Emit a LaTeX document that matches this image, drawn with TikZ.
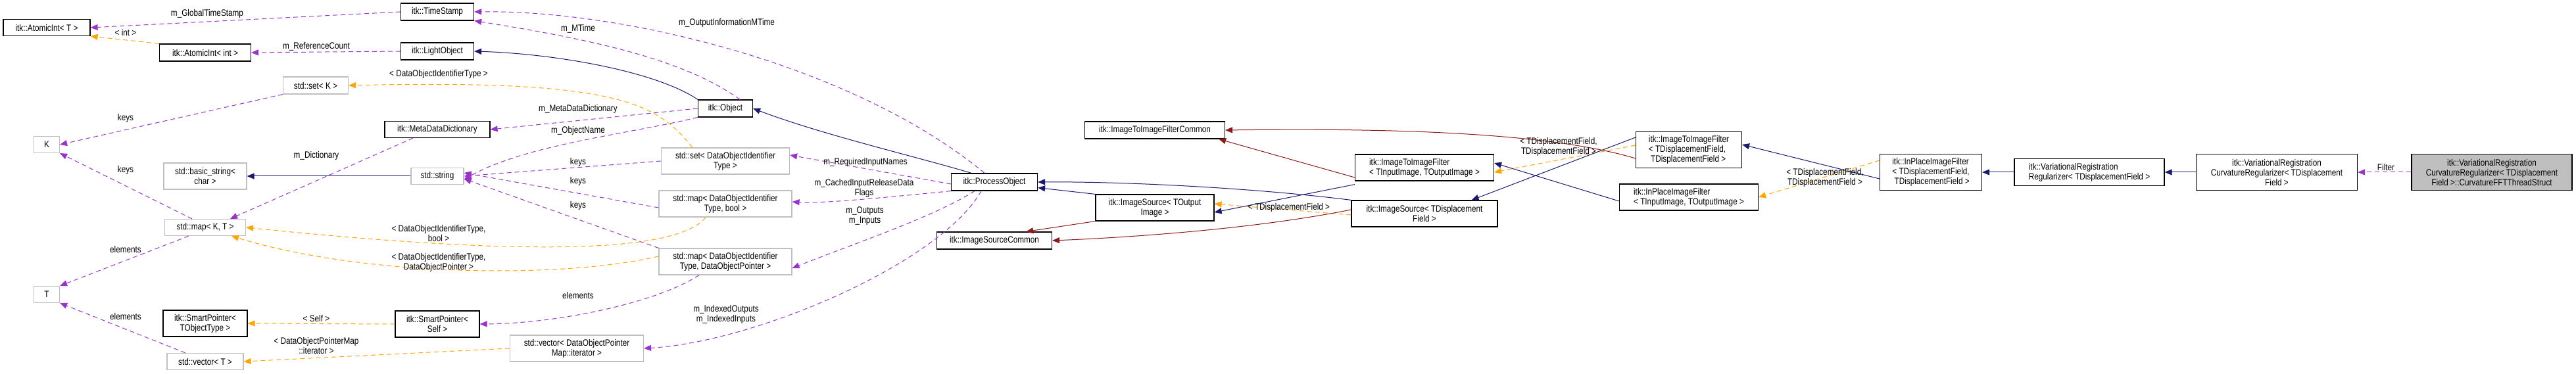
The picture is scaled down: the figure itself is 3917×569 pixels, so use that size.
\documentclass[tikz,border=0pt]{standalone}
\usepackage{fontspec}
\setmainfont{Liberation Sans}[FakeStretch=0.84]
\usetikzlibrary{arrows.meta}
\definecolor{cpur}{HTML}{9A32CD}
\definecolor{corg}{HTML}{FFA500}
\definecolor{cnav}{HTML}{191970}
\definecolor{cred}{HTML}{8B1A1A}
\definecolor{cgb}{HTML}{BFBFBF}
\begin{document}
\begin{tikzpicture}[x=1pt,y=-1pt,
  font=\fontsize{14}{15}\selectfont,
  box/.style={draw=black,line width=1.2pt,inner sep=1pt,align=center},
  gbox/.style={draw=cgb,line width=1.2pt,inner sep=1pt,align=center},
  lbox/.style={box,align=left},
  tip/.style={-{Triangle[length=11pt,width=9pt]}},
  use/.style={tip,draw=cpur,dashed,dash pattern=on 7pt off 5pt,line width=1pt},
  tpl/.style={tip,draw=corg,dashed,dash pattern=on 7pt off 5pt,line width=1pt},
  inh/.style={tip,draw=cnav,line width=1pt},
  prv/.style={tip,draw=cred,line width=1pt},
  lab/.style={align=center,inner sep=0pt}]
\useasboundingbox (0,0) rectangle (3917,569);
\def\B#1#2#3#4#5#6{\node[#1,minimum width=#4,minimum height=#5] (#6) at (#2,#3)}
% nodes
\B{box}{71}{42}{132}{25}{ait}{itk::AtomicInt< T >};
\B{box}{312}{80}{139}{26}{aint}{itk::AtomicInt< int >};
\B{gbox}{480}{130}{99}{26}{setk}{std::set< K >};
\B{gbox}{71}{220}{39}{25}{K}{K};
\B{gbox}{312}{268}{126}{40}{bstr}{std::basic\_string<\\ char >};
\B{gbox}{312}{346}{123}{25}{mapkt}{std::map< K, T >};
\B{gbox}{71}{448}{39}{25}{T}{T};
\B{box}{312}{492}{128}{40}{spto}{itk::SmartPointer<\\ TObjectType >};
\B{gbox}{312}{550}{116}{25}{vect}{std::vector< T >};
\B{box}{665}{18}{111}{26}{ts}{itk::TimeStamp};
\B{box}{665}{78}{111}{26}{lo}{itk::LightObject};
\B{box}{665}{197}{160}{25}{mdd}{itk::MetaDataDictionary};
\B{gbox}{665}{268}{80}{25}{str}{std::string};
\B{box}{665}{493}{128}{40}{sps}{itk::SmartPointer<\\ Self >};
\B{box}{1103}{165}{83}{26}{obj}{itk::Object};
\B{gbox}{1103}{245}{195}{40}{setd}{std::set< DataObjectIdentifier\\ Type >};
\B{gbox}{1103}{310}{202}{40}{mapb}{std::map< DataObjectIdentifier\\ Type, bool >};
\B{gbox}{1103}{398}{202}{40}{mapd}{std::map< DataObjectIdentifier\\ Type, DataObjectPointer >};
\B{gbox}{877}{530}{203}{40}{vecd}{std::vector< DataObjectPointer\\ Map::iterator >};
\B{box}{1512}{277}{131}{26}{po}{itk::ProcessObject};
\B{box}{1756}{198}{213}{26}{iifc}{itk::ImageToImageFilterCommon};
\B{box}{1756}{316}{180}{40}{isto}{itk::ImageSource< TOutput\\ Image >};
\B{box}{1512}{366}{175}{26}{isc}{itk::ImageSourceCommon};
\B{lbox}{2166}{255}{211}{40}{iif}{itk::ImageToImageFilter\\< TInputImage, TOutputImage >};
\B{box}{2166}{325}{222}{40}{isd}{itk::ImageSource< TDisplacement\\ Field >};
\B{lbox}{2568}{228}{161}{55}{iif3}{itk::ImageToImageFilter\\< TDisplacementField,\\ \ TDisplacementField >};
\B{lbox}{2568}{300}{211}{40}{ipio}{itk::InPlaceImageFilter\\< TInputImage, TOutputImage >};
\B{lbox}{2936}{262}{155}{55}{ipd}{itk::InPlaceImageFilter\\< TDisplacementField,\\ \ TDisplacementField >};
\B{lbox}{3177}{262}{228}{41}{vrr}{itk::VariationalRegistration\\Regularizer< TDisplacementField >};
\B{box}{3462}{262}{245}{55}{cr}{itk::VariationalRegistration\\CurvatureRegularizer< TDisplacement\\Field >};
\node[box,fill=cgb,minimum width=244,minimum height=55] (fft) at (3789,262) {itk::VariationalRegistration\\CurvatureRegularizer< TDisplacement\\Field >::CurvatureFFTThreadStruct};
% edges
\draw[use] (ts.west) -- (ait.east);
\draw[tpl] (aint.north west) -- (ait.south east);
\draw[use] (lo.west) -- (aint.east);
\draw[inh] (obj.north west) .. controls (1000,110) and (850,82) .. (lo.east);
\draw[use] ([xshift=-20pt]obj.north east) .. controls (1040,90) and (900,60) .. (ts.south east);
\draw[use] ([xshift=-15pt]po.north) .. controls (1300,100) and (950,15) .. (ts.east);
\draw[tpl] ([xshift=-50pt]setd.north) .. controls (1000,160) and (950,120) .. (setk.east);
\draw[use] (setk.south west) -- (K.east);
\draw[use] ([xshift=-20pt]mapkt.north) -- (K.south east);
\draw[use] ([xshift=-37pt]mdd.south) -- ([xshift=38pt]mapkt.north);
\draw[inh] (str.west) -- (bstr.east);
\draw[use] (obj.west) -- (mdd.east);
\draw[use] (obj.south west) .. controls (950,205) and (800,220) .. ([yshift=-5pt]str.east);
\draw[use] (setd.west) -- (str.east);
\draw[use] ([yshift=-6pt]mapb.west) -- ([yshift=5pt]str.east);
\draw[use] (mapd.north west) -- ([yshift=9pt]str.south east);
\draw[tpl] ([xshift=-30pt]mapb.south) .. controls (1030,385) and (800,390) .. ([xshift=0pt]mapkt.east);
\draw[tpl] ([yshift=8pt]mapd.west) .. controls (850,425) and (550,420) .. ([xshift=40pt]mapkt.south);
\draw[use] ([xshift=-25pt]mapkt.south) -- (T.north east);
\draw[use] ([xshift=-30pt]vect.north) -- (T.south east);
\draw[tpl] (sps.west) -- (spto.east);
\draw[use] ([xshift=-40pt]mapd.south) .. controls (1000,460) and (850,492) .. (sps.east);
\draw[tpl] (vecd.west) -- (vect.east);
\draw[inh] ([xshift=-35pt]po.north) .. controls (1400,240) and (1250,205) .. (obj.east);
\draw[use] ([yshift=-3pt]po.west) -- ([yshift=9pt]setd.east);
\draw[use] (po.south west) .. controls (1350,300) and (1250,310) .. ([yshift=3pt]mapb.east);
\draw[use] ([xshift=-30pt]po.south) .. controls (1420,330) and (1300,370) .. ([yshift=-10pt]mapd.east);
\draw[use] ([xshift=-20pt]po.south) .. controls (1430,400) and (1150,520) .. (vecd.east);
\draw[inh] (isto.north west) -- ([yshift=5pt]po.south east);
\draw[prv] (isto.south west) -- ([xshift=-40pt]isc.north east);
\draw[tpl] ([yshift=-2pt]isd.west) -- ([yshift=6pt]isto.east);
\draw[prv] ([yshift=6pt]isd.west) .. controls (1900,350) and (1700,362) .. (isc.east);
\draw[inh] (isd.north west) .. controls (1900,285) and (1700,276) .. (po.east);
\draw[inh] ([yshift=-5pt]iif.south west) -- ([yshift=-7pt]isto.east);
\draw[prv] ([yshift=-15pt]iif.west) -- ([xshift=-10pt]iifc.south east);
\draw[prv] ([yshift=-13pt]iif3.west) .. controls (2350,200) and (2100,195) .. (iifc.east);
\draw[tpl] ([yshift=7pt]iif3.west) -- ([yshift=-7pt]iif.east);
\draw[inh] ([yshift=19pt]iif3.west) -- ([xshift=-40pt]isd.north east);
\draw[inh] ([yshift=-6pt]ipio.west) -- ([yshift=7pt]iif.east);
\draw[inh] ([yshift=-10pt]ipd.west) -- ([yshift=8pt]iif3.east);
\draw[tpl] ([yshift=18pt]ipd.west) -- (ipio.east);
\draw[inh] (vrr.west) -- (ipd.east);
\draw[inh] (cr.west) -- (vrr.east);
\draw[use] (fft.west) -- (cr.east);
% labels
\node[lab] (l1) at (315,21) {m\_GlobalTimeStamp};
\node[lab] (l2) at (191,49) {< int >};
\node[lab] (l3) at (481,71) {m\_ReferenceCount};
\node[lab] (l4) at (667,113) {< DataObjectIdentifierType >};
\node[lab] (l5) at (191,180) {keys};
\node[lab] (l6) at (191,259) {keys};
\node[lab] (l7) at (481,237) {m\_Dictionary};
\node[lab] (l8) at (667,355) {< DataObjectIdentifierType,\\ bool >};
\node[lab] (l9) at (667,399) {< DataObjectIdentifierType,\\ DataObjectPointer >};
\node[lab] (l10) at (191,379) {elements};
\node[lab] (l11) at (191,481) {elements};
\node[lab] (l12) at (481,484) {< Self >};
\node[lab] (l13) at (481,526) {< DataObjectPointerMap\\ ::iterator >};
\node[lab] (l14) at (879,44) {m\_MTime};
\node[lab] (l15) at (1105,35) {m\_OutputInformationMTime};
\node[lab] (l16) at (879,166) {m\_MetaDataDictionary};
\node[lab] (l17) at (879,199) {m\_ObjectName};
\node[lab] (l18) at (879,247) {keys};
\node[lab] (l19) at (879,276) {keys};
\node[lab] (l20) at (879,313) {keys};
\node[lab] (l21) at (879,449) {elements};
\node[lab] (l22) at (1104,478) {m\_IndexedOutputs\\m\_IndexedInputs};
\node[lab] (l23) at (1316,247) {m\_RequiredInputNames};
\node[lab] (l24) at (1314,286) {m\_CachedInputReleaseData\\Flags};
\node[lab] (l25) at (1315,329) {m\_Outputs\\m\_Inputs};
\node[lab] (l26) at (1960,316) {< TDisplacementField >};
\node[lab] (l27) at (2370,223) {< TDisplacementField,\\TDisplacementField >};
\node[lab] (l28) at (2775,270) {< TDisplacementField,\\TDisplacementField >};
\node[lab] (l29) at (3628,254) {Filter};
\end{tikzpicture}
\end{document}
